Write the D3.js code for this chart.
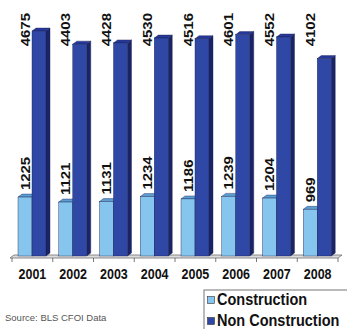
<!DOCTYPE html>
<html><head><meta charset="utf-8">
<script src="https://cdn.jsdelivr.net/npm/d3@7"></script>
<style>body{margin:0;background:#fff}svg{display:block}</style>
</head><body>
<script>
const years = ["2001","2002","2003","2004","2005","2006","2007","2008"];
const series = ["Construction","Non Construction"];
const construction = [1225,1121,1131,1234,1186,1239,1204,969];
const nonConstruction = [4675,4403,4428,4530,4516,4601,4552,4102];
const sourceText = "Source: BLS CFOI Data";

const W = 347, H = 329;
const svg = d3.select("body").append("svg").attr("width", W).attr("height", H);
const font = "Arial, 'Liberation Sans', sans-serif";

const base = 256;
const x = d3.scaleBand().domain(years).range([12, 338]).padding(0);
const inner = d3.scaleBand().domain(series).range([6, 34]).padding(0);
const y = d3.scaleLinear().domain([0, 5000]).range([base, base - 240.6]);
const dx = 4, dy = 3;

// floor
svg.append("path")
  .attr("d", `M10,${base+2}L338,${base+2}L${338+dx},${base+2-dy}L${10+dx},${base+2-dy}Z`)
  .attr("fill", "#dcdcdc").attr("stroke", "#6e6e6e").attr("stroke-width", 0.8);
const ticks = years.map(d => x(d)).concat([x.range()[1]]);
svg.selectAll("line.tick").data(ticks).enter().append("line")
  .attr("x1", d => d).attr("x2", d => d)
  .attr("y1", base + 2).attr("y2", base + 6)
  .attr("stroke", "#555").attr("stroke-width", 0.8);

const colors = {
  "Construction": {front: "#86C6EE", top: "#5B9ED3", side: "#4F86B8"},
  "Non Construction": {front: "#2F47A5", top: "#26399A", side: "#1A2467"}
};
const data = [];
years.forEach((yr, i) => {
  data.push({year: yr, s: "Construction", v: construction[i]});
  data.push({year: yr, s: "Non Construction", v: nonConstruction[i]});
});

const g = svg.append("g");
data.forEach(d => {
  const x0 = x(d.year) + inner(d.s), w = inner.bandwidth();
  const yt = y(d.v), c = colors[d.s];
  const bar = g.append("g");
  bar.append("path")
    .attr("d", `M${x0+w},${yt}L${x0+w+dx},${yt-dy}L${x0+w+dx},${base-dy}L${x0+w},${base}Z`)
    .attr("fill", c.side).attr("stroke", "#1a1f4d").attr("stroke-width", 0.4);
  bar.append("path")
    .attr("d", `M${x0},${yt}L${x0+dx},${yt-dy}L${x0+w+dx},${yt-dy}L${x0+w},${yt}Z`)
    .attr("fill", c.top).attr("stroke", "#1a1f4d").attr("stroke-width", 0.4);
  bar.append("rect")
    .attr("x", x0).attr("y", yt).attr("width", w).attr("height", base - yt)
    .attr("fill", c.front).attr("stroke", "#1a1f4d").attr("stroke-width", 0.4);
});

// value labels
const lblSize = 13;
data.forEach(d => {
  const cx = x(d.year) + inner("Construction") + inner.bandwidth() / 2;
  const tx = cx + lblSize * 0.36;
  let ty, anchor;
  if (d.s === "Construction") { ty = y(d.v) - 7; anchor = "start"; }
  else { ty = 13; anchor = "end"; }
  svg.append("text")
    .attr("transform", `translate(${tx},${ty}) rotate(-90) scale(1.15,1)`)
    .attr("text-anchor", anchor)
    .attr("font-family", font).attr("font-weight", "bold")
    .attr("font-size", lblSize).attr("fill", "#111")
    .text(d.v);
});

// year labels
svg.selectAll("text.year").data(years).enter().append("text")
  .attr("transform", d => `translate(${x(d) + x.bandwidth() / 2},279) scale(1,1.2)`)
  .attr("text-anchor", "middle")
  .attr("font-family", font).attr("font-weight", "bold")
  .attr("font-size", 12.5).attr("fill", "#111")
  .text(d => d);

// source
svg.append("text").attr("x", 5).attr("y", 321)
  .attr("font-family", font).attr("font-size", 9.5).attr("fill", "#555")
  .text(sourceText);

// legend
const lg = svg.append("g").attr("transform", "translate(204,290)");
lg.append("rect").attr("x", 0).attr("y", 0).attr("width", 150).attr("height", 45)
  .attr("fill", "#fff").attr("stroke", "#777").attr("stroke-width", 1);
series.forEach((s, i) => {
  const yy = 10 + i * 21;
  lg.append("rect").attr("x", 3.5).attr("y", yy - 3.5).attr("width", 7).attr("height", 7)
    .attr("fill", colors[s].front).attr("stroke", "#333").attr("stroke-width", 0.6);
  lg.append("text").attr("transform", `translate(13,${yy + 5}) scale(1,1.1)`)
    .attr("font-family", font).attr("font-weight", "bold")
    .attr("font-size", 14.5).attr("fill", "#111").text(s);
});
</script>
</body></html>
